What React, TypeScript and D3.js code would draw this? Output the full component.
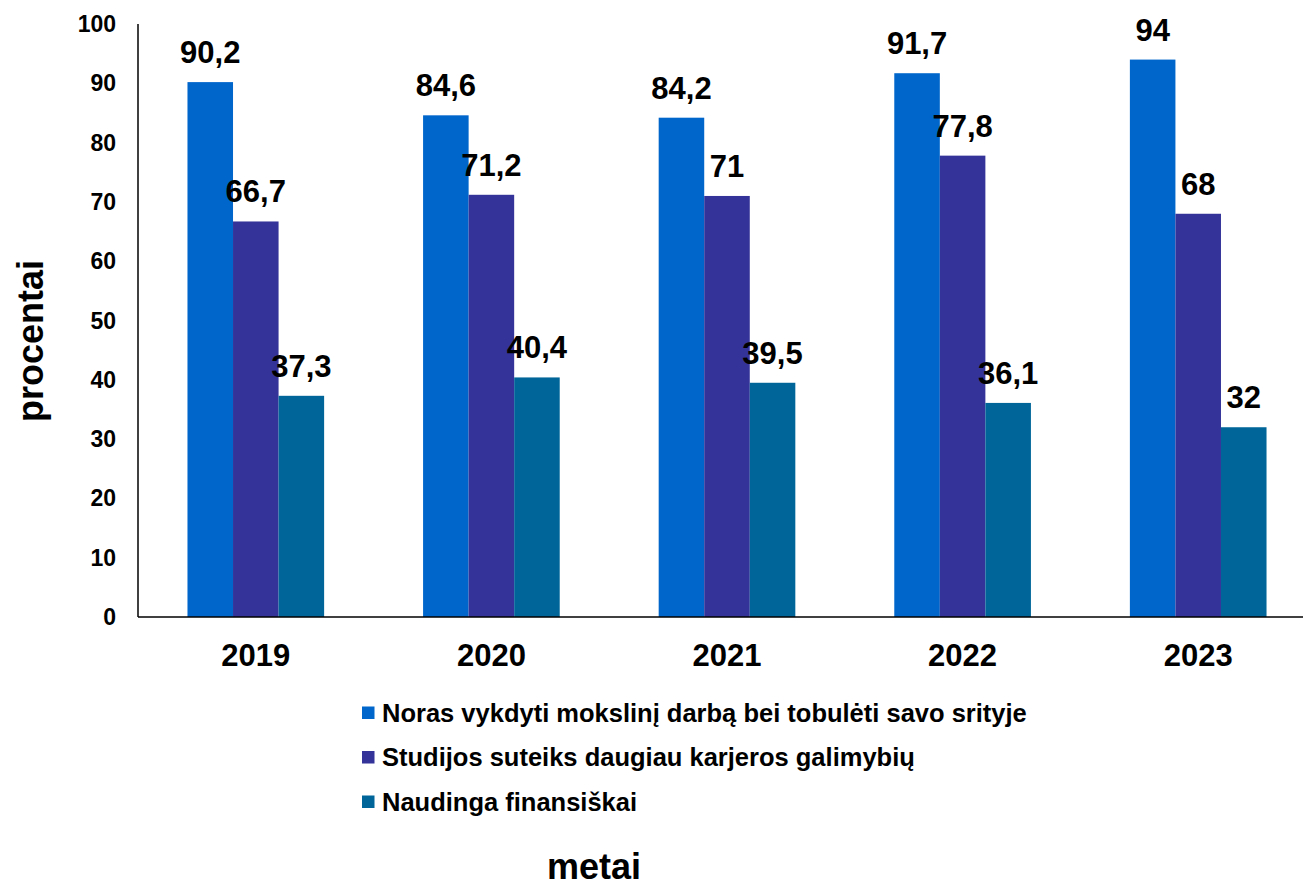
import React from 'react';
import * as d3 from 'd3';

const years = ['2019', '2020', '2021', '2022', '2023'];
const seriesNames = [
  'Noras vykdyti mokslinį darbą bei tobulėti savo srityje',
  'Studijos suteiks daugiau karjeros galimybių',
  'Naudinga finansiškai',
];
const research = [90.2, 84.6, 84.2, 91.7, 94];
const career = [66.7, 71.2, 71, 77.8, 68];
const finance = [37.3, 40.4, 39.5, 36.1, 32];
const yTicks = [0, 10, 20, 30, 40, 50, 60, 70, 80, 90, 100];
const colors = ['#0066CC', '#333399', '#006699'];

const W = 1303;
const H = 886;
const FONT = '"Liberation Sans", Arial, sans-serif';

export default function App() {
  const values = [research, career, finance];

  const x = d3.scaleBand<string>()
    .domain(years)
    .range([138, 1316])
    .paddingInner(0.42)
    .paddingOuter(0.21);
  const xs = d3.scaleBand<number>()
    .domain([0, 1, 2])
    .range([0, x.bandwidth()]);
  const y = d3.scaleLinear().domain([0, 100]).range([617, 24]);

  const fmt = (v: number) => String(v).replace('.', ',');

  return (
    <svg width={W} height={H} style={{ display: 'block', position: 'absolute', left: 0, top: 0 }}
      fontFamily={FONT} fontWeight="bold">
      <rect width={W} height={H} fill="#fff" />

      {/* bars */}
      {years.map((yr, i) => (
        <g key={yr} transform={`translate(${x(yr)},0)`}>
          {values.map((s, k) => (
            <rect key={k} x={xs(k)} y={y(s[i])} width={xs.bandwidth()}
              height={y(0) - y(s[i])} fill={colors[k]} />
          ))}
          {values.map((s, k) => (
            <text key={'l' + k} x={(xs(k) as number) + xs.bandwidth() / 2} y={y(s[i]) - 19}
              textAnchor="middle" fontSize={31} fill="#000">{fmt(s[i])}</text>
          ))}
        </g>
      ))}

      {/* axes */}
      <line x1={138} x2={138} y1={y(100)} y2={y(0)} stroke="#000" strokeWidth={1.5} />
      <line x1={138} x2={W} y1={y(0)} y2={y(0)} stroke="#000" strokeWidth={1.5} />

      {yTicks.map(t => (
        <text key={t} x={116} y={y(t) + 8} textAnchor="end" fontSize={23} fill="#000">{t}</text>
      ))}

      {years.map(yr => (
        <text key={yr} x={(x(yr) as number) + x.bandwidth() / 2} y={666}
          textAnchor="middle" fontSize={31} fill="#000">{yr}</text>
      ))}

      {/* legend */}
      {seriesNames.map((name, k) => (
        <g key={name} transform={`translate(362,${713 + k * 44.5})`}>
          <rect x={0} y={-6.5} width={12.5} height={12.5} fill={colors[k]} />
          <text x={20} y={8.5} fontSize={25.5} fill="#000">{name}</text>
        </g>
      ))}

      {/* axis titles */}
      <text transform="translate(43,341) rotate(-90)" textAnchor="middle" fontSize={36} fill="#000">procentai</text>
      <text x={594} y={879} textAnchor="middle" fontSize={36} fill="#000">metai</text>
    </svg>
  );
}
